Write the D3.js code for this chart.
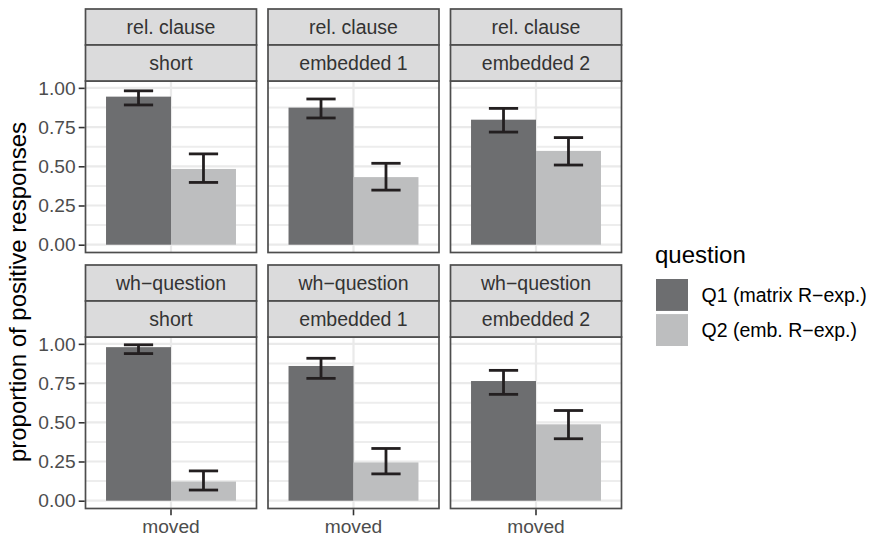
<!DOCTYPE html>
<html>
<head>
<meta charset="utf-8">
<script src="https://cdn.jsdelivr.net/npm/d3@7"></script>
<style>
  body { margin: 0; background: #fff; }
  text { font-family: "Liberation Sans", Arial, Helvetica, sans-serif; }
</style>
</head>
<body>
<svg id="chart" width="875" height="538"></svg>
<script>
// facet labels
const constructions = ['rel. clause', 'wh\u2212question'];
const conditions = ['short', 'embedded 1', 'embedded 2'];
const questions = ['Q1 (matrix R\u2212exp.)', 'Q2 (emb. R\u2212exp.)'];
const xCategories = ['moved'];
const yTicks = [0, 0.25, 0.5, 0.75, 1];
const yMinor = [0.125, 0.375, 0.625, 0.875];

// one value per panel, in facet order (rel. clause row, then wh-question row)
const q1Mean  = [0.944, 0.874, 0.797, 0.979, 0.859, 0.763];
const q1Lower = [0.891, 0.808, 0.718, 0.938, 0.780, 0.678];
const q1Upper = [0.981, 0.929, 0.869, 0.994, 0.908, 0.831];
const q2Mean  = [0.483, 0.431, 0.598, 0.122, 0.244, 0.487];
const q2Lower = [0.397, 0.348, 0.508, 0.068, 0.171, 0.395];
const q2Upper = [0.579, 0.519, 0.683, 0.190, 0.333, 0.575];

const colors = ['#6d6e70', '#bdbebf'];

const svg = d3.select('#chart');

const panelW = 171;
const panelH = 171.5;
const stripH = 36;
const colX = [85.5, 268, 450.5];
const rowTop = [9, 265];

const yMax = d3.max(q1Upper.concat(q2Upper));
const pad = yMax * 0.05;

const xBand = d3.scaleBand().domain(xCategories).range([0, panelW]).paddingOuter(0.158).paddingInner(0);
const qBand = d3.scaleBand().domain(questions).range([0, xBand.bandwidth()]);

const panels = [];
constructions.forEach((c, r) => {
    conditions.forEach((cond, k) => {
        const i = r * conditions.length + k;
        panels.push({
            row: r, col: k, construction: c, condition: cond,
            bars: [
                { q: questions[0], mean: q1Mean[i], lo: q1Lower[i], hi: q1Upper[i] },
                { q: questions[1], mean: q2Mean[i], lo: q2Lower[i], hi: q2Upper[i] }
            ]
        });
    });
});

const color = d3.scaleOrdinal().domain(questions).range(colors);

panels.forEach(p => {
    const x0 = colX[p.col];
    const top = rowTop[p.row];
    const pTop = top + stripH * 2;
    const y = d3.scaleLinear().domain([-pad, yMax + pad]).range([pTop + panelH, pTop]);

    const g = svg.append('g');

    // panel background + grid
    g.append('rect').attr('x', x0).attr('y', pTop).attr('width', panelW).attr('height', panelH)
        .attr('fill', '#fff');
    g.selectAll('line.minor').data(yMinor).enter().append('line')
        .attr('x1', x0).attr('x2', x0 + panelW)
        .attr('y1', d => y(d)).attr('y2', d => y(d))
        .attr('stroke', '#ededed').attr('stroke-width', 2);
    g.selectAll('line.major').data(yTicks).enter().append('line')
        .attr('x1', x0).attr('x2', x0 + panelW)
        .attr('y1', d => y(d)).attr('y2', d => y(d))
        .attr('stroke', '#eaeaea').attr('stroke-width', 2.2);
    g.selectAll('line.vmajor').data(xCategories).enter().append('line')
        .attr('x1', d => x0 + xBand(d) + xBand.bandwidth() / 2)
        .attr('x2', d => x0 + xBand(d) + xBand.bandwidth() / 2)
        .attr('y1', pTop).attr('y2', pTop + panelH)
        .attr('stroke', '#eaeaea').attr('stroke-width', 2.2);

    // bars
    g.selectAll('rect.bar').data(p.bars).enter().append('rect')
        .attr('x', d => x0 + xBand('moved') + qBand(d.q))
        .attr('width', qBand.bandwidth())
        .attr('y', d => y(d.mean))
        .attr('height', d => y(0) - y(d.mean))
        .attr('fill', d => color(d.q));

    // error bars
    const capW = qBand.bandwidth() * 0.45;
    p.bars.forEach(d => {
        const cx = x0 + xBand('moved') + qBand(d.q) + qBand.bandwidth() / 2;
        const eb = g.append('g').attr('stroke', '#231f20').attr('stroke-width', 2.8).attr('fill', 'none');
        eb.append('line').attr('x1', cx).attr('x2', cx).attr('y1', y(d.lo)).attr('y2', y(d.hi));
        eb.append('line').attr('x1', cx - capW / 2).attr('x2', cx + capW / 2).attr('y1', y(d.lo)).attr('y2', y(d.lo));
        eb.append('line').attr('x1', cx - capW / 2).attr('x2', cx + capW / 2).attr('y1', y(d.hi)).attr('y2', y(d.hi));
    });

    // panel border
    g.append('rect').attr('x', x0).attr('y', pTop).attr('width', panelW).attr('height', panelH)
        .attr('fill', 'none').attr('stroke', '#4d4d4d').attr('stroke-width', 1.7);

    // strips
    [p.construction, p.condition].forEach((label, s) => {
        const sy = top + s * stripH;
        g.append('rect').attr('x', x0).attr('y', sy).attr('width', panelW).attr('height', stripH)
            .attr('fill', '#dbdbdc').attr('stroke', '#4d4d4d').attr('stroke-width', 1.7);
        g.append('text').attr('x', x0 + panelW / 2).attr('y', sy + stripH / 2).attr('dy', '0.36em')
            .attr('text-anchor', 'middle').attr('font-size', 19.5).attr('fill', '#333')
            .text(label);
    });

    // y axis on first column
    if (p.col === 0) {
        const yAxis = d3.axisLeft(y).tickValues(yTicks).tickFormat(d3.format('.2f')).tickSize(6).tickPadding(3);
        const ag = g.append('g').attr('transform', `translate(${x0 - 0.8},0)`).call(yAxis);
        ag.select('.domain').remove();
        ag.selectAll('line').attr('stroke', '#333').attr('stroke-width', 1.6);
        ag.selectAll('text').attr('font-size', 19.2).attr('fill', '#4d4d4d')
            .style('font-family', '"Liberation Sans", Arial, sans-serif');
    }

    // x axis on bottom row
    if (p.row === constructions.length - 1) {
        const xs = d3.scaleBand().domain(xCategories).range([x0 + xBand(xCategories[0]), x0 + xBand(xCategories[0]) + xBand.bandwidth()]);
        const xAxis = d3.axisBottom(xs).tickSize(6).tickPadding(4);
        const ag = g.append('g').attr('transform', `translate(0,${pTop + panelH + 0.8})`).call(xAxis);
        ag.select('.domain').remove();
        ag.selectAll('line').attr('stroke', '#333').attr('stroke-width', 1.6);
        ag.selectAll('text').attr('font-size', 19.2).attr('fill', '#4d4d4d')
            .style('font-family', '"Liberation Sans", Arial, sans-serif');
    }
});

// y axis title
svg.append('text')
    .attr('transform', 'translate(26,292) rotate(-90)')
    .attr('text-anchor', 'middle')
    .attr('font-size', 24).attr('fill', '#000')
    .text('proportion of positive responses');

// legend
const legend = svg.append('g').attr('transform', 'translate(655,0)');
legend.append('text').attr('x', 0).attr('y', 263).attr('font-size', 24).attr('fill', '#000').text('question');
const keyY = d3.scaleBand().domain(questions).range([279, 346]).paddingInner(0.09);
legend.selectAll('rect.key').data(questions).enter().append('rect')
    .attr('x', 1).attr('y', d => keyY(d)).attr('width', 32).attr('height', keyY.bandwidth())
    .attr('fill', d => color(d));
legend.selectAll('text.lab').data(questions).enter().append('text')
    .attr('x', 46.5).attr('y', d => keyY(d) + keyY.bandwidth() / 2).attr('dy', '0.36em')
    .attr('font-size', 19.5).attr('fill', '#000')
    .text(d => d);
</script>
</body>
</html>
